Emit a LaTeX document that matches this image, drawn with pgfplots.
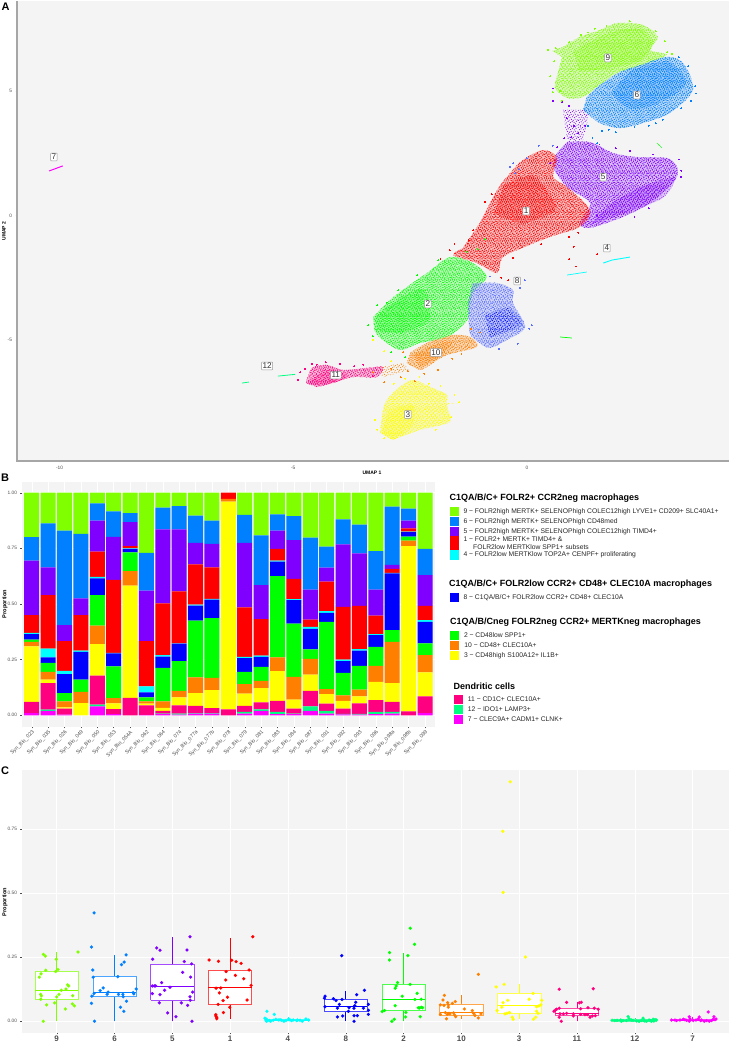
\documentclass[border=0pt]{standalone}
\usepackage{fontspec}
\setmainfont{Liberation Sans}
\usepackage{pgfplots}
\usepackage{pgfplotstable}
\usetikzlibrary{patterns}
\pgfplotsset{compat=1.18}

\definecolor{c9}{HTML}{80FF00}
\definecolor{c6}{HTML}{0080FF}
\definecolor{c5}{HTML}{8000FF}
\definecolor{c1}{HTML}{FF0000}
\definecolor{c4}{HTML}{00FFFF}
\definecolor{c8}{HTML}{0000FF}
\definecolor{c8l}{HTML}{5A6EFF}
\definecolor{c2}{HTML}{00FF00}
\definecolor{c10}{HTML}{FF8000}
\definecolor{c3}{HTML}{FFFF00}
\definecolor{c11}{HTML}{FF0080}
\definecolor{c12}{HTML}{00FF80}
\definecolor{c7}{HTML}{FF00FF}
\definecolor{panel}{HTML}{F4F4F4}
\definecolor{tick}{HTML}{4D4D4D}

\newcommand{\fs}[1]{\fontsize{#1}{#1}\selectfont}

% speckle for the UMAP clouds
\pgfdeclarepatternformonly{speckA}{\pgfqpoint{-1pt}{-1pt}}{\pgfqpoint{18pt}{18pt}}{\pgfqpoint{17pt}{17pt}}{
  \foreach \a/\b in {.6/1.2,2.3/.4,4.1/1.9,6.2/.7,8.4/1.6,10.1/.3,12.3/1.1,14.6/2.2,16/.9,
    1.4/3.3,3.2/4.2,5.3/3.1,7.1/4.6,9.3/3.4,11.2/4.4,13.1/3.6,15.3/4.7,
    .4/5.6,2.2/6.7,4.4/5.9,6.3/6.9,8.2/5.8,10.4/6.6,12.2/5.7,14.1/6.8,16.2/6.1,
    1.1/8.4,3.5/8.9,5.2/8.2,7.4/9.1,9.1/8.3,11.3/9.2,13.4/8.5,15.2/9.3,
    .7/10.8,2.6/11.4,4.3/10.6,6.6/11.6,8.5/10.7,10.2/11.5,12.4/10.9,14.4/11.7,16.4/11,
    1.6/13.3,3.1/14.1,5.6/13.2,7.2/14.2,9.6/13.4,11.4/14.3,13.2/13.1,15.1/14.4,
    .3/15.6,2.4/16.1,4.6/15.4,6.4/16.2,8.3/15.5,10.6/16.3,12.6/15.7,14.7/16.2}{
    \pgfpathcircle{\pgfqpoint{\a pt}{\b pt}}{.55pt}\pgfusepath{fill}}
}
\pgfdeclarepatternformonly{speckB}{\pgfqpoint{-1pt}{-1pt}}{\pgfqpoint{14pt}{14pt}}{\pgfqpoint{13pt}{13pt}}{
  \foreach \a/\b in {1.2/.5,3.6/1.4,5.4/.2,7.7/1.2,9.9/.6,11.8/1.7,
    .3/2.6,2.5/3.4,4.8/2.8,6.6/3.7,8.8/2.9,11/3.8,
    1.5/5.2,3.7/5.9,5.9/5,8/6,10.1/5.3,12.3/6.1,
    .5/7.6,2.8/8.1,4.6/7.4,7/8.4,9.2/7.6,11.5/8.3,
    1.7/9.9,3.9/10.5,6/9.7,8.3/10.6,10.4/9.9,12.5/10.7,
    .6/12,2.9/12.4,5/11.9,7.2/12.5,9.5/12,11.6/12.6}{
    \pgfpathcircle{\pgfqpoint{\a pt}{\b pt}}{.5pt}\pgfusepath{fill}}
}

% bars, bottom to top of the stack
\pgfplotstableread{
x  c7   c12  c11  c3   c10  c2   c8   c4   c1   c5   c6   c9
1  .010 0    .050 .250 .020 .010 .025 .005 .080 .245 .105 .200
2  .020 .005 .120 .015 .035 .040 .025 .040 .240 .125 .197 .138
3  .003 0    .027 .005 .028 .037 .085 .015 .133 .072 .425 .170
4  0    0    0    .055 .050 .055 .125 .005 .160 .075 .290 .185
5  .040 .008 .130 .142 .083 .137 .075 .007 .113 .140 .077 .048
6  .005 0    .023 .025 .024 .143 .058 .002 .328 .194 .114 .084
7  0    0    .078 .505 .065 .084 .016 .002 .010 .108 .040 .092
8  .002 0    .043 .007 .011 .017 .023 .027 .203 .227 .170 .270
9  .005 .003 .012 .013 .029 .151 .050 .007 .233 .332 .098 .067
10 .003 .005 .037 .035 .030 .133 .079 .001 .234 .278 .105 .060
11 .008 .002 .032 .058 .070 .255 .068 .004 .181 .097 .122 .103
12 .008 .002 .022 .081 .055 .268 .084 .003 .142 .105 .105 .125
13 0    0    .027 .933 .012 0    0    0    .028 0    0    0
14 .008 .007 .027 .055 .043 .055 .062 .005 .223 .290 .125 .100
15 .020 .007 .031 .064 .033 .062 .045 .006 .164 .153 .223 .192
16 .005 .010 .050 .133 .062 .365 .065 .005 .053 .082 .072 .098
17 .005 .003 .022 .040 .102 .240 .105 .005 .091 .174 .108 .105
18 .020 .020 .070 .073 .070 .043 .092 .009 .033 .135 .233 .202
19 .008 .012 .032 .043 .023 .302 .040 .008 .132 .063 .095 .242
20 .004 .002 .024 .035 .025 .100 .053 .007 .237 .281 .112 .120
21 .003 .003 .047 .032 .030 .107 .068 .007 .195 .235 .130 .143
22 .005 .010 .053 .082 .072 .085 .053 .005 .083 .117 .173 .262
23 .007 .008 .045 .085 .185 .053 .255 .002 .018 .018 .261 .063
24 0    0    .018 .742 .025 .018 .020 .002 .015 .035 .053 .072
25 .010 0    .075 .108 .077 .053 .097 .008 .064 .138 .118 .252
}\stack

% one box of panel C: left, centre, right, colour, low whisker, q1, median, q3, high whisker
\newcommand{\bx}[9]{%
  \addplot[#4,line width=.55pt,forget plot] coordinates {(#2,#5)(#2,#9)};
  \addplot[draw=#4!70!white,fill=white,line width=.6pt,forget plot] coordinates {(#1,#6)(#3,#6)(#3,#8)(#1,#8)(#1,#6)};
  \addplot[#4,line width=.9pt,forget plot] coordinates {(#1,#7)(#3,#7)};
}

% one cloud of panel A: colour, outline, dense part
\newcommand{\cloud}[3]{%
  \addplot[draw=none,no markers,smooth,tension=.5,fill=#1,fill opacity=.22,forget plot] coordinates {#2};
  \addplot[draw=none,no markers,smooth,tension=.5,pattern=speckA,pattern color=#1,forget plot] coordinates {#2};
  \addplot[draw=none,no markers,smooth,tension=.5,pattern=speckB,pattern color=#1,forget plot] coordinates {#2};
  \addplot[draw=none,no markers,smooth,tension=.5,pattern=speckB,pattern color=#1,forget plot] coordinates {#3};
  \addplot[draw=none,no markers,smooth,tension=.5,fill=#1,fill opacity=.2,forget plot] coordinates {#3};
}

\pgfplotsset{
  panel/.style={scale only axis,anchor=south west,axis background/.style={fill=panel},
    axis line style={draw=none},clip=true,
    tick style={draw=tick,line width=.3pt},major tick length=1.5pt,
    tick align=outside,xtick pos=bottom,ytick pos=left,
    ticklabel style={text=tick},
    /pgf/number format/assume math mode=true},
  fuzz/.style={only marks,color=#1,mark=*,mark size=.45pt,mark options={line width=0pt},forget plot},
  dots/.style={only marks,color=#1,mark=*,mark size=1.6pt,mark options={line width=.1pt},forget plot},
}

\begin{document}
\begin{tikzpicture}[x=1pt,y=1pt]
\path[use as bounding box] (0,0) rectangle (729,1044);

% ---------- A
\begin{axis}[panel,at={(17pt,583pt)},width=712pt,height=460pt,
  xmin=-10.909,xmax=4.321,ymin=-9.859,ymax=8.614,
  xtick={-10,-5,0},ytick={-5,0,5},
  ticklabel style={font=\fs{4.8}},
  xticklabels={-10,-5,0},yticklabels={-5,0,5}]
\addplot[draw=none,no markers,pattern=speckA,pattern color=c5,forget plot] coordinates {(.77,4.24)(1.35,4.24)(1.20,3.03)(.86,2.95)};
\cloud{c5}{(.86,2.95)(1.35,2.95)(1.84,2.51)(2.35,2.35)(2.99,2.31)(3.21,1.95)(3.17,1.43)(2.63,.50)(2.05,-.06)(1.35,-.50)(1.13,-.30)(1.35,.50)(.86,1.14)(.56,1.95)(.64,2.51)}{(1.35,-.35)(2.1,.1)(2.9,.7)(3.15,1.5)(2.5,1.2)(1.8,.5)}
\cloud{c1}{(-1.01,-.30)(-.64,1.02)(-.36,1.71)(-.09,2.23)(.34,2.63)(.64,2.35)(.56,1.55)(.86,1.14)(1.35,.22)(1.13,-.46)(.49,-.86)(.06,-1.18)(-.51,-1.67)(-.64,-2.31)(-1.07,-1.91)(-1.58,-1.59)(-1.37,-1.31)}{(-.5,1.2)(.1,1.6)(.5,.8)(.6,.2)(-.1,-.3)(-.7,.1)}
\cloud{c9}{(.535,6.61)(.77,6.77)(1.13,7.17)(1.56,7.45)(1.93,7.73)(2.48,7.65)(2.80,7.17)(2.63,6.65)(2.99,6.45)(2.48,6.04)(1.93,5.72)(1.50,5.16)(1.20,4.76)(.86,4.72)(.60,5.12)(.66,5.72)(.75,6.37)}{(1.0,6.6)(1.7,7.3)(2.4,7.5)(2.7,6.9)(2.4,6.2)(1.7,5.9)(1.1,5.8)}
\cloud{c6}{(1.28,4.76)(1.56,5.24)(1.99,5.76)(2.42,6.04)(2.99,6.37)(3.34,6.12)(3.55,5.04)(3.06,4.12)(2.48,3.71)(1.99,3.51)(1.56,3.71)(1.20,4.24)}{(2.2,5.8)(3.0,6.2)(3.4,5.3)(2.8,4.5)(2.2,4.3)(1.8,4.9)}
\cloud{c2}{(-3.29,-4.08)(-2.93,-3.39)(-2.57,-2.87)(-2.14,-2.31)(-1.65,-1.67)(-1.16,-1.91)(-.86,-2.47)(-1.16,-3.11)(-1.28,-4.20)(-1.71,-4.88)(-2.29,-5.12)(-2.72,-5.40)(-3.14,-4.92)(-3.27,-4.60)}{(-3.25,-4.1)(-2.7,-3.3)(-2.2,-3.0)(-2.1,-4.2)(-2.7,-4.7)(-3.2,-4.6)}
\cloud{c8l}{(-1.16,-2.71)(-.64,-2.71)(-.30,-2.99)(-.30,-3.51)(-.04,-4.48)(-.43,-5.00)(-.79,-5.32)(-1.01,-5.12)(-1.22,-4.72)(-1.26,-3.51)}{(-.8,-4.9)(-.1,-4.4)(-.4,-3.7)(-.9,-4.0)}
\addplot[draw=none,no markers,pattern=speckB,pattern color=c8,forget plot] coordinates {(-.8,-4.9)(-.1,-4.4)(-.4,-3.7)(-.9,-4.0)};
\addplot[draw=none,no markers,pattern=speckA,pattern color=c10,forget plot] coordinates {(-3.21,-6.12)(-2.65,-5.92)(-2.50,-6.20)(-3.08,-6.49)};
\cloud{c10}{(-2.50,-5.52)(-2.14,-5.12)(-1.58,-4.80)(-1.22,-4.88)(-1.07,-5.28)(-1.71,-5.60)(-2.07,-6.00)(-2.29,-6.20)(-2.57,-5.92)}{(-2.4,-5.6)(-2.0,-5.2)(-1.6,-5.1)(-1.9,-5.7)(-2.3,-6.1)}
\cloud{c11}{(-4.73,-6.73)(-4.60,-6.12)(-4.28,-6.00)(-3.94,-6.20)(-3.42,-6.12)(-3.08,-6.08)(-3.21,-6.49)(-3.72,-6.49)(-4.15,-6.73)(-4.49,-6.89)}{(-4.7,-6.75)(-4.3,-6.2)(-3.9,-6.35)(-3.9,-6.55)(-4.4,-6.85)}
\cloud{c3}{(-3.14,-8.73)(-3.04,-7.53)(-2.72,-6.89)(-2.44,-6.61)(-2.01,-6.93)(-1.71,-7.21)(-1.71,-7.53)(-1.48,-7.53)(-1.71,-7.61)(-1.65,-8.29)(-2.29,-8.61)(-2.87,-9.02)}{(-3.1,-8.75)(-2.95,-7.9)(-2.45,-7.6)(-2.45,-8.4)(-2.85,-9.0)}
% the thin clusters
\addplot[c12,line width=.8pt,forget plot] coordinates {(-5.33,-6.45)(-4.96,-6.38)};
\addplot[c12,line width=.8pt,forget plot] coordinates {(-6.10,-6.73)(-5.95,-6.69)};
\addplot[c4,line width=.7pt,forget plot] coordinates {(.86,-2.39)(1.28,-2.27)};
\addplot[c4,line width=.9pt,forget plot] coordinates {(1.63,-1.91)(1.82,-1.79)(2.20,-1.67)};
\addplot[c7,line width=1pt,forget plot] coordinates {(-10.22,1.79)(-9.93,1.99)};
\addplot[c2,line width=.7pt,forget plot] coordinates {(.71,-4.88)(.96,-4.92)};
\addplot[c2,line width=.4pt,forget plot] coordinates {(2.78,2.91)(2.89,2.71)};
% strays round the edges
\addplot[fuzz=c9] coordinates {(.45,6.65)(.62,6.72)(3.1,6.5)(2.95,7.0)(1.3,7.35)(.7,5.0)(.58,6.2)(2.2,7.8)(.9,6.95)(1.15,7.25)(1.7,7.6)(2.75,7.4)(.5,5.6)(.55,4.95)(.75,4.6)(3.0,6.55)(1.45,7.5)};
\addplot[fuzz=c6] coordinates {(3.6,5.2)(3.5,4.6)(2.9,3.85)(2.3,3.55)(1.6,3.4)(1.4,3.1)(1.5,2.9)(1.1,3.3)(3.25,6.35)(1.9,3.35)(2.6,3.6)(3.62,4.9)(3.3,4.3)(2.75,3.7)(1.3,3.6)(1.75,3.45)(3.45,6.0)};
\addplot[fuzz=c5] coordinates {(.55,5.1)(.75,4.55)(.9,4.4)(.85,3.9)(1.0,3.6)(1.1,3.3)(1.25,3.6)(.95,3.15)(3.3,1.8)(3.25,2.25)(2.7,2.45)(2.2,2.6)(1.5,.0)(.65,2.75)(.8,3.1)(1.55,2.85)(1.9,2.7)(2.6,.3)(2.3,-.05)(3.3,1.55)(.5,2.1)(.55,4.6)};
\addplot[fuzz=c8l] coordinates {(-.36,1.95)(-.29,2.1)(-.18,1.85)(-.25,1.7)(.0,2.3)(.25,2.8)(.55,2.8)(-.05,-2.6)(.05,-4.55)(-.8,-2.45)(.1,-4.4)(-.2,-5.15)(-.6,-5.35)(-.15,-2.9)};
\addplot[fuzz=c1] coordinates {(-.9,.55)(-1.15,-.6)(-1.55,-1.15)(-1.85,-1.75)(-.55,-2.5)(-.4,-2.6)(1.5,-1.55)(1.1,-.7)(.9,-1.75)(1.05,-2.05)(1.0,-1.25)(.9,-.85)(-.75,.85)(-1.25,-1.0)(-1.65,-1.4)(-.3,-1.7)(.3,-1.15)};
\addplot[fuzz=c2] coordinates {(-3.4,-4.4)(-3.2,-3.6)(-2.9,-5.5)(-2.6,-5.7)(-1.3,-1.45)(-1.05,-1.35)(-.9,-.95)(-3.3,-4.85)(-2.75,-3.0)(-2.35,-2.4)(-1.9,-1.8)(-3.0,-3.5)};
\addplot[fuzz=c10] coordinates {(-3.3,-6.3)(-3.05,-6.7)(-2.9,-6.15)(-2.7,-6.5)(-2.4,-6.65)(-1.6,-5.75)(-1.9,-6.2)(-1.0,-4.7)(-1.2,-4.55)(-2.65,-5.5)(-2.2,-6.35)(-1.4,-5.55)(-2.55,-6.25)};
\addplot[fuzz=c3] coordinates {(-3.3,-5.0)(-3.05,-5.45)(-2.9,-5.85)(-2.6,-6.55)(-2.3,-6.5)(-1.85,-6.85)(-1.45,-7.5)(-1.62,-8.1)(-3.2,-8.6)(-3.05,-8.95)(-2.85,-6.75)(-2.1,-6.75)(-1.55,-7.2)(-1.95,-8.6)(-3.25,-8.2)};
\addplot[fuzz=c11] coordinates {(-4.85,-6.3)(-4.75,-6.15)(-4.6,-5.95)(-4.3,-5.9)(-4.0,-5.95)(-3.7,-6.05)(-3.5,-6.0)(-3.3,-6.45)(-4.9,-6.6)(-4.5,-6.0)};

\foreach \lx/\ly/\lt in {1.73/6.33/9,2.35/4.84/6,1.63/1.55/5,-.02/.18/1,1.71/-1.31/4,-.21/-2.63/8,-2.12/-3.55/2,-1.95/-5.50/10,-2.55/-7.99/3,-4.09/-6.41/11,-5.56/-6.04/12,-10.12/2.35/7}{
  \edef\tmp{\noexpand\node[draw=gray!80,fill=white,rounded corners=.6pt,line width=.5pt,inner sep=1pt,
    font=\noexpand\fs{8.2},text=black!80] at (axis cs:\lx,\ly) {\lt};}\tmp}
\end{axis}

% ---------- B
\begin{axis}[panel,at={(22pt,317pt)},width=413pt,height=245pt,
  xmin=.408,xmax=25.61,ymin=-.0526,ymax=1.048,
  ybar stacked,bar width=15pt,
  grid=major,grid style={white,line width=.4pt},
  ytick={0,.25,.5,.75,1},
  yticklabel style={font=\fs{4.8},/pgf/number format/fixed,/pgf/number format/fixed zerofill,/pgf/number format/precision=2},
  xtick={1,...,25},
  xticklabels={Syn\_Bio\_023,Syn\_Bio\_035,Syn\_Bio\_026,Syn\_Bio\_049,Syn\_Bio\_050,Syn\_Bio\_053,Syn\_Bio\_054A,Syn\_Bio\_062,Syn\_Bio\_064,Syn\_Bio\_074,Syn\_Bio\_077a,Syn\_Bio\_077b,Syn\_Bio\_078,Syn\_Bio\_079,Syn\_Bio\_081,Syn\_Bio\_083,Syn\_Bio\_084,Syn\_Bio\_087,Syn\_Bio\_091,Syn\_Bio\_092,Syn\_Bio\_093,Syn\_Bio\_096,Syn\_Bio\_098a,Syn\_Bio\_098b,Syn\_Bio\_099},
  xticklabel style={font=\fs{5.2},rotate=45,anchor=north east,inner sep=1pt}]
\foreach \c in {c7,c12,c11,c3,c10,c2,c8,c4,c1,c5,c6,c9}{
  \edef\tmp{\noexpand\addplot[fill=\c,draw=none] table[x=x,y=\c] {\noexpand\stack};}\tmp}
\end{axis}

% ---------- C
\begin{axis}[panel,at={(22pt,11pt)},width=707pt,height=263pt,
  xmin=.4,xmax=12.63,ymin=-.0456,ymax=.98,
  grid=major,grid style={white,line width=.4pt},
  ytick={0,.25,.5,.75},
  yticklabel style={font=\fs{4.8},/pgf/number format/fixed,/pgf/number format/fixed zerofill,/pgf/number format/precision=2},
  xtick={1,...,12},xticklabels={9,6,5,1,4,8,2,10,3,11,12,7},
  xticklabel style={font=\fs{8}\bfseries,inner sep=1.5pt}]
\bx{.625}{1}{1.375}{c9}{0}{.086}{.121}{.194}{.269}
\bx{1.625}{2}{2.375}{c6}{0}{.099}{.113}{.174}{.257}
\bx{2.625}{3}{3.375}{c5}{0}{.082}{.134}{.222}{.330}
\bx{3.625}{4}{4.375}{c1}{.010}{.066}{.131}{.200}{.326}
\bx{4.625}{5}{5.375}{c4}{0}{.002}{.005}{.008}{.015}
\bx{5.625}{6}{6.375}{c8}{0}{.039}{.058}{.086}{.120}
\bx{6.625}{7}{7.375}{c2}{0}{.042}{.086}{.144}{.265}
\bx{7.625}{8}{8.375}{c10}{.009}{.022}{.034}{.068}{.103}
\bx{8.625}{9}{9.375}{c3}{.008}{.031}{.061}{.109}{.144}
\bx{9.625}{10}{10.375}{c11}{0}{.022}{.031}{.051}{.074}
\bx{10.625}{11}{11.375}{c12}{0}{.001}{.003}{.006}{.012}
\bx{11.625}{12}{12.375}{c7}{0}{.002}{.004}{.008}{.015}
\addplot[dots=c9] coordinates {(.769,.261)(.804,.254)(1.369,.270)(.994,.242)(.700,.172)(.729,.185)(.810,.199)(.983,.194)(1.023,.202)(.723,.105)(.735,.099)(.723,.086)(.827,.064)(.965,.072)(1.0,.095)(1.040,.105)(1.081,.121)(1.161,.126)(1.190,.142)(1.208,.138)(1.277,.100)(1.271,.068)(1.306,.060)(1.150,.048)(.769,0)};
\addplot[dots=c6] coordinates {(1.648,.423)(1.602,.290)(2.202,.259)(2.167,.231)(2.121,.221)(1.625,.200)(1.631,.172)(2.058,.174)(1.804,.130)(1.752,.120)(1.890,.114)(1.648,.109)(1.608,.098)(1.873,.105)(2.069,.105)(2.144,.105)(2.150,.096)(2.323,.112)(2.334,.107)(2.375,.126)(2.208,.078)(1.602,.070)(2.104,.055)(2.161,.039)(1.654,0)};
\addplot[dots=c5] coordinates {(3.306,.330)(2.729,.286)(2.787,.277)(3.254,.278)(2.660,.242)(3.208,.233)(3.334,.224)(3.179,.191)(3.317,.172)(2.815,.151)(2.654,.138)(2.689,.138)(2.712,.138)(2.960,.133)(2.867,.121)(3.352,.114)(2.654,.108)(2.787,.104)(3.306,.096)(3.311,.082)(2.775,.072)(3.156,.072)(3.265,.062)(2.919,.033)(3.063,.018)(3.340,0)};
\addplot[dots=c1] coordinates {(4.392,.330)(3.637,.239)(3.798,.234)(4.029,.238)(4.104,.233)(4.190,.226)(3.931,.194)(4.329,.200)(4.092,.179)(4.236,.166)(3.925,.161)(4.363,.140)(3.758,.129)(3.839,.130)(3.815,.111)(3.954,.094)(3.879,.081)(4.294,.083)(3.792,.066)(3.994,.055)(3.885,.034)(3.752,.026)(3.752,.021)(3.769,.016)(3.769,.010)};
\addplot[dots=c4] coordinates {(4.637,.039)(4.764,.027)(4.602,.012)(4.619,.005)(4.631,0)(4.700,0)(4.792,.008)(4.833,.005)(4.931,0)(5.012,.009)(5.035,.005)(5.092,.005)(5.167,.005)(5.248,0)(5.311,.009)(5.358,.005)(4.631,.008)(4.677,.003)(4.746,.004)(4.890,.004)(4.965,.003)(5.208,.004)(5.064,.003)(4.862,.006)(5.150,.003)};
\addplot[dots=c8] coordinates {(5.931,.256)(6.323,.121)(6.190,.104)(5.642,.098)(5.631,.090)(5.787,.088)(5.833,.081)(5.937,.085)(6.173,.074)(5.890,.066)(5.642,.057)(5.856,.051)(6.058,.053)(6.156,.061)(6.144,.051)(6.306,.051)(6.392,.066)(6.392,.043)(6.046,.039)(6.392,.027)(5.948,.021)(5.856,.017)(6.144,.022)(6.202,.022)(6.144,0)};
\addplot[dots=c2] coordinates {(7.115,.363)(7.190,.300)(6.758,.268)(7.075,.256)(6.758,.239)(6.896,.151)(7.115,.144)(6.873,.138)(6.856,.129)(7.236,.109)(6.977,.098)(7.196,.085)(7.306,.086)(6.856,.061)(7.254,.053)(7.306,.055)(7.329,.053)(6.631,.038)(6.671,.042)(7.040,.035)(7.035,.017)(7.288,.018)(6.838,.008)(6.798,0)(7.277,.052)};
\addplot[dots=c10] coordinates {(8.294,.183)(7.706,.101)(7.683,.083)(7.896,.077)(7.763,.073)(7.844,.070)(7.637,.064)(7.700,.062)(7.775,.064)(7.775,.055)(8.052,.048)(8.190,.042)(8.213,.031)(7.637,.027)(7.723,.034)(7.758,.027)(7.787,.031)(7.867,.033)(7.879,.025)(7.902,.018)(7.744,.010)(8.236,.023)(8.294,.013)(8.340,.029)(7.804,.029)};
\addplot[dots=c3] coordinates {(8.844,.934)(8.717,.741)(8.723,.503)(9.110,.251)(8.740,.144)(8.602,.134)(9.242,.109)(9.173,.086)(8.804,.082)(9.392,.082)(8.723,.073)(8.700,.055)(8.619,.042)(9.300,.057)(9.340,.060)(9.375,.064)(9.300,.039)(9.329,.031)(8.833,.034)(8.752,.029)(8.879,.016)(8.896,.008)(9.288,.016)(9.248,.008)(8.786,.031)};
\addplot[dots=c11] coordinates {(9.694,.125)(10.283,.127)(9.821,.074)(10.040,.072)(10.075,.074)(10.190,.053)(10.300,.051)(10.369,.047)(10.063,.049)(9.694,.051)(9.648,.047)(9.602,.039)(9.619,.042)(9.706,.029)(9.764,.029)(9.821,.031)(9.937,.029)(9.937,.021)(10.063,.027)(10.138,.026)(10.179,.026)(10.225,.016)(10.265,.021)(10.317,.022)(9.694,.016)(9.729,0)};
\addplot[dots=c12] coordinates {(10.608,.004)(10.694,.004)(10.769,0)(10.758,.005)(10.885,.018)(10.902,.010)(10.942,.005)(11.075,0)(11.144,.012)(11.156,.003)(11.202,0)(11.248,.005)(11.288,0)(11.317,.008)(11.352,.007)(11.375,.005)(11.115,.003)(10.856,.003)(10.654,.003)(10.798,.003)(11.029,.001)(11.173,.001)(11.271,.003)(11.329,.001)(10.971,.004)};
\addplot[dots=c7] coordinates {(12.271,.036)(11.942,.018)(12.115,.017)(12.369,.018)(12.404,.009)(11.839,.008)(11.723,.003)(11.637,.005)(11.694,.005)(11.781,.005)(11.896,.004)(11.954,.009)(12.012,.003)(12.058,.005)(12.098,.009)(12.138,.003)(12.202,0)(12.242,.003)(12.288,0)(12.329,.003)(12.358,.008)(11.942,0)(11.867,.006)(12.156,.005)(12.387,.006)};
\end{axis}

% axis lines of A
\draw[gray!70,line width=1.2pt] (17,1043) -- (17,583) -- (729,583);

% panel letters and axis titles
\node[font=\fs{11}\bfseries,anchor=center] at (5.5,1037) {A};
\node[font=\fs{11}\bfseries,anchor=center] at (5,566) {B};
\node[font=\fs{11}\bfseries,anchor=center] at (5,273) {C};
\node[font=\fs{5}\bfseries] at (372,571) {UMAP 1};
\node[font=\fs{5}\bfseries,rotate=90] at (4,813) {UMAP 2};
\node[font=\fs{5.6}\bfseries,rotate=90] at (5,440) {Proportion};
\node[font=\fs{5.6}\bfseries,rotate=90] at (5,142) {Proportion};

% legend of B
\newcommand{\hd}[3]{\node[anchor=west,inner sep=0,font=\fs{9}\bfseries] at (#1,1044-#2) {#3};}
\newcommand{\sw}[3]{\fill[#3] (#1,1044-#2-4.6) rectangle ++(9.3,9.3);}
\newcommand{\itm}[3]{\node[anchor=west,inner sep=0,font=\fs{6.75},text=black!85] at (#1,1044-#2) {#3};}
\hd{449.3}{498.3}{C1QA/B/C+ FOLR2+ CCR2neg macrophages}
\sw{449.5}{511.7}{c9}\itm{463.3}{511.7}{9 − FOLR2high MERTK+ SELENOPhigh COLEC12high LYVE1+ CD209+ SLC40A1+}
\sw{449.5}{521.7}{c6}\itm{463.3}{521.7}{6 − FOLR2high MERTK+ SELENOPhigh CD48med}
\sw{449.5}{531.7}{c5}\itm{463.3}{531.7}{5 − FOLR2high MERTK+ SELENOPhigh COLEC12high TIMD4+}
\sw{449.5}{540.3}{c1}\sw{449.5}{545}{c1}\itm{463.3}{539.3}{1 − FOLR2+ MERTK+ TIMD4+ \&}
\itm{473}{546.7}{FOLR2low MERTKlow SPP1+ subsets}
\sw{449.5}{555}{c4}\itm{463.3}{555}{4 − FOLR2low MERTKlow TOP2A+ CENPF+ proliferating}
\hd{449}{584}{C1QA/B/C+ FOLR2low CCR2+ CD48+ CLEC10A macrophages}
\sw{449.5}{597.3}{c8}\itm{463.3}{597.3}{8 − C1QA/B/C+ FOLR2low CCR2+ CD48+ CLEC10A}
\hd{450}{622.3}{C1QA/B/Cneg FOLR2neg CCR2+ MERTKneg macrophages}
\sw{450}{635.3}{c2}\itm{463.8}{635.3}{2 − CD48low SPP1+}
\sw{450}{645.3}{c10}\itm{464.2}{645.3}{10 − CD48+ CLEC10A+}
\sw{450}{655.3}{c3}\itm{463.8}{655.3}{3 − CD48high S100A12+ IL1B+}
\hd{453.3}{686.7}{Dendritic cells}
\sw{453.5}{699.3}{c11}\itm{467.7}{699.3}{11 − CD1C+ CLEC10A+}
\sw{453.5}{709.3}{c12}\itm{467.7}{709.3}{12 − IDO1+ LAMP3+}
\sw{453.5}{719.3}{c7}\itm{467.7}{719.3}{7 − CLEC9A+ CADM1+ CLNK+}
\end{tikzpicture}
\end{document}
